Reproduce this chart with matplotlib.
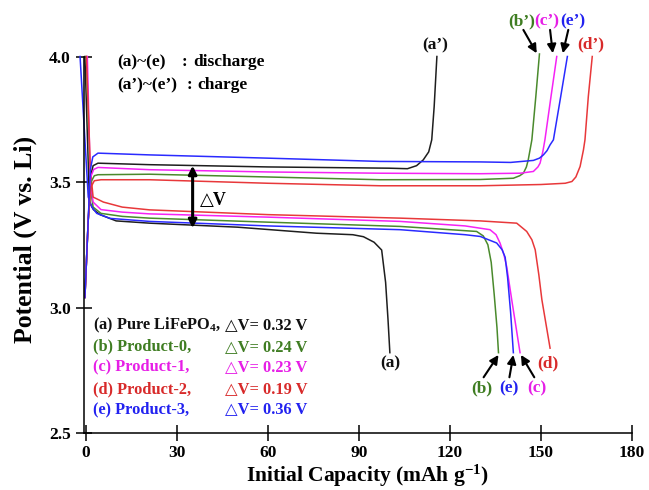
import matplotlib
matplotlib.use("Agg")
import matplotlib.pyplot as plt

plt.rcParams['font.family'] = ['Liberation Serif', 'DejaVu Sans']
plt.rcParams['font.weight'] = 'bold'
plt.rcParams['mathtext.fontset'] = 'custom'
plt.rcParams['mathtext.rm'] = 'Liberation Serif:bold'
plt.rcParams['mathtext.it'] = 'Liberation Serif:bold'
plt.rcParams['mathtext.bf'] = 'Liberation Serif:bold'
plt.rcParams['mathtext.default'] = 'regular'

# ---------------- data (capacity mAh/g, potential V) ----------------
# discharge curves (a)-(e)
dis_a_x = [-0.3, 1.2, 2.5, 4.7, 10, 21, 50, 76, 88, 91.5, 95, 97.5, 98.8, 99.6, 100.2]
dis_a_y = [4.0, 3.42, 3.39, 3.37, 3.345, 3.336, 3.32, 3.296, 3.29, 3.282, 3.26, 3.229, 3.10, 2.95, 2.82]

dis_b_x = [0.2, 1.5, 2.4, 5, 12, 21, 60, 103.6, 120, 128.8, 131, 132.5, 133.6, 134.6, 135.5, 136]
dis_b_y = [4.0, 3.48, 3.40, 3.375, 3.363, 3.356, 3.34, 3.323, 3.31, 3.303, 3.285, 3.25, 3.18, 3.05, 2.92, 2.82]

dis_c_x = [0.5, 1.5, 2.4, 5, 12, 21, 60, 103.6, 125, 133.2, 135.2, 136.5, 137.8, 138.7, 140.5, 143.1]
dis_c_y = [4.0, 3.50, 3.42, 3.39, 3.38, 3.373, 3.36, 3.343, 3.325, 3.31, 3.29, 3.257, 3.21, 3.163, 3.02, 2.82]

dis_d_x = [0.2, 1.5, 2.4, 5.8, 12, 21, 60, 103.6, 130, 142, 145.3, 147, 148.1, 149.3, 150.3, 153]
dis_d_y = [4.0, 3.55, 3.44, 3.42, 3.40, 3.389, 3.37, 3.356, 3.345, 3.336, 3.303, 3.27, 3.23, 3.13, 3.031, 2.838]

dis_e_x = [-1.9, 0.8, 2, 3.6, 8, 21, 60, 103.6, 125, 130, 135.4, 137.2, 138.2, 139.0, 140, 140.9]
dis_e_y = [4.0, 3.44, 3.40, 3.375, 3.355, 3.343, 3.325, 3.31, 3.29, 3.283, 3.257, 3.23, 3.20, 3.12, 2.98, 2.82]

# charge curves (a')-(e')
chg_a_x = [-0.3, 0.8, 1.5, 2.4, 4, 21, 60, 100, 106, 109, 111.2, 113, 114, 114.8, 115.7]
chg_a_y = [3.04, 3.35, 3.52, 3.565, 3.575, 3.569, 3.56, 3.555, 3.553, 3.565, 3.588, 3.62, 3.668, 3.80, 4.0]

chg_b_x = [-0.3, 0.8, 1.7, 2.8, 4, 21, 60, 97, 130, 140.9, 143, 144.2, 145.2, 145.8, 147, 148.3, 149.5]
chg_b_y = [3.04, 3.35, 3.50, 3.525, 3.529, 3.531, 3.52, 3.509, 3.51, 3.515, 3.525, 3.535, 3.56, 3.588, 3.668, 3.84, 4.01]

chg_c_x = [-0.3, 0.8, 1.6, 2.6, 4, 21, 60, 97, 130, 143.1, 147.5, 149, 149.7, 150.6, 151.3, 153.3, 155.2]
chg_c_y = [3.04, 3.35, 3.52, 3.55, 3.558, 3.549, 3.54, 3.535, 3.533, 3.535, 3.542, 3.56, 3.575, 3.62, 3.668, 3.84, 4.0]

chg_d_x = [-0.3, 0.8, 1.7, 2.8, 5, 21, 60, 97, 130, 150, 158, 160.2, 161.5, 162.9, 164, 164.5, 165.6, 166.9]
chg_d_y = [3.04, 3.35, 3.48, 3.505, 3.509, 3.509, 3.495, 3.485, 3.485, 3.49, 3.495, 3.502, 3.52, 3.562, 3.628, 3.668, 3.84, 4.0]

chg_e_x = [-0.3, 0.8, 1.5, 2.3, 4, 21, 60, 97, 130, 140, 147.5, 149.5, 150.8, 152, 153, 154.1, 156.5, 158.7]
chg_e_y = [3.04, 3.35, 3.55, 3.60, 3.615, 3.608, 3.595, 3.582, 3.58, 3.578, 3.586, 3.595, 3.608, 3.625, 3.648, 3.668, 3.84, 4.0]

sample_names = ["(a) Pure LiFePO$_4$,", "(b) Product-0,", "(c) Product-1,", "(d) Product-2,", "(e) Product-3,"]
delta_v = ["0.32", "0.24", "0.23", "0.19", "0.36"]
line_colors = ["#1e1e1e", "#4a8a2c", "#f522f5", "#e8383a", "#2a2aff"]
text_colors = ["#111111", "#3f7d22", "#e61ee6", "#d82a2a", "#2222f0"]

x_ticks = [0, 30, 60, 90, 120, 150, 180]
y_ticks = [2.5, 3.0, 3.5, 4.0]

# ---------------- figure ----------------
fig = plt.figure(figsize=(6.49, 4.90), dpi=100)
ax = fig.add_axes([84/649, 1-433/490, 548/649, 376.5/490])

dis = [(dis_a_x, dis_a_y), (dis_b_x, dis_b_y), (dis_c_x, dis_c_y), (dis_d_x, dis_d_y), (dis_e_x, dis_e_y)]
chg = [(chg_a_x, chg_a_y), (chg_b_x, chg_b_y), (chg_c_x, chg_c_y), (chg_d_x, chg_d_y), (chg_e_x, chg_e_y)]
for (x, y), c in zip(dis, line_colors):
    ax.plot(x, y, color=c, lw=1.1, clip_on=False, solid_joinstyle='round')
for (x, y), c in zip(chg, line_colors):
    ax.plot(x, y, color=c, lw=1.1, clip_on=False, solid_joinstyle='round')

ax.set_xlim(-0.6, 180)
ax.set_ylim(2.5, 4.0)
ax.set_xticks(x_ticks)
ax.set_yticks(y_ticks)
ax.set_yticklabels([f"{v:.1f}" for v in y_ticks])
for s in ['top', 'right']:
    ax.spines[s].set_visible(False)
for s in ['left', 'bottom']:
    ax.spines[s].set_linewidth(1.1)
ax.tick_params(direction='inout', length=11, width=1.1, labelsize=12.5, pad=3)
ax.tick_params(axis='y', pad=4)

ax.set_xlabel("Initial Capacity (mAh g$^{-1}$)", fontsize=15.5, fontweight='bold', va='top')
ax.xaxis.set_label_coords(0.518, -0.078)
ax.set_ylabel("Potential (V vs. Li)", fontsize=18.5, fontweight='bold')
ax.yaxis.set_label_coords(-0.085, 0.515)

# top-left notes
ax.text(10.2, 3.977, "(a)~(e)", fontsize=12.5, fontweight='bold', va='center', ha='left')
ax.text(31.7, 3.977, ":", fontsize=12.5, fontweight='bold', va='center', ha='left')
ax.text(35.4, 3.977, "discharge", fontsize=12.5, fontweight='bold', va='center', ha='left')
ax.text(10.2, 3.886, "(a\u2019)~(e\u2019)", fontsize=12.5, fontweight='bold', va='center', ha='left')
ax.text(33.3, 3.886, ":", fontsize=12.5, fontweight='bold', va='center', ha='left')
ax.text(36.6, 3.886, "charge", fontsize=12.5, fontweight='bold', va='center', ha='left')

# bottom-left legend block
leg_y = [2.930, 2.844, 2.764, 2.675, 2.595]
for name, dv, c, yy in zip(sample_names, delta_v, text_colors, leg_y):
    ax.text(2.5, yy, name, color=c, fontsize=11.8, fontweight='bold', va='center', ha='left')
    ax.text(45.8, yy, "\u25b3V= " + dv + " V", color=c, fontsize=11.8, fontweight='bold', va='center', ha='left')

# delta V arrow
ax.annotate("", xy=(35.2, 3.316), xytext=(35.2, 3.565),
            arrowprops=dict(arrowstyle='<|-|>', color='black', lw=2.2, mutation_scale=12, shrinkA=0, shrinkB=0))
ax.text(37.6, 3.428, "\u25b3V", fontsize=13, fontweight='bold', va='center', ha='left')

# discharge end labels
ax.text(100.3, 2.778, "(a)", color=text_colors[0], fontsize=12.5, fontweight='bold', ha='center', va='center')
ax.text(152.4, 2.778, "(d)", color=text_colors[3], fontsize=12.5, fontweight='bold', ha='center', va='center')
for lbl, tx, x_start, x_end, c in [("(b)", 130.5, 131.1, 136.0, text_colors[1]),
                                    ("(e)", 139.5, 139.6, 140.9, text_colors[4]),
                                    ("(c)", 148.8, 147.8, 143.4, text_colors[2])]:
    ax.text(tx, 2.678, lbl, color=c, fontsize=12.5, fontweight='bold', ha='center', va='center')
    ax.annotate("", xy=(x_end, 2.811), xytext=(x_start, 2.722),
                arrowprops=dict(arrowstyle='-|>', color='black', lw=1.5, mutation_scale=13, shrinkA=0, shrinkB=0),
                annotation_clip=False)

# charge end labels
ax.text(115.3, 4.046, "(a\u2019)", color=text_colors[0], fontsize=12.5, fontweight='bold', ha='center', va='center', clip_on=False)
ax.text(166.5, 4.05, "(d\u2019)", color=text_colors[3], fontsize=12.5, fontweight='bold', ha='center', va='center', clip_on=False)
for lbl, tx, x0, x1, c in [("(b\u2019)", 143.7, 144.2, 148.6, text_colors[1]),
                            ("(c\u2019)", 152.0, 153.0, 153.9, text_colors[2]),
                            ("(e\u2019)", 160.4, 159.0, 157.2, text_colors[4])]:
    ax.text(tx, 4.141, lbl, color=c, fontsize=12.5, fontweight='bold', ha='center', va='center', clip_on=False)
    ax.annotate("", xy=(x1, 4.013), xytext=(x0, 4.106),
                arrowprops=dict(arrowstyle='-|>', color='black', lw=1.5, mutation_scale=13, shrinkA=0, shrinkB=0),
                annotation_clip=False)

fig.savefig("out.png", dpi=100)
